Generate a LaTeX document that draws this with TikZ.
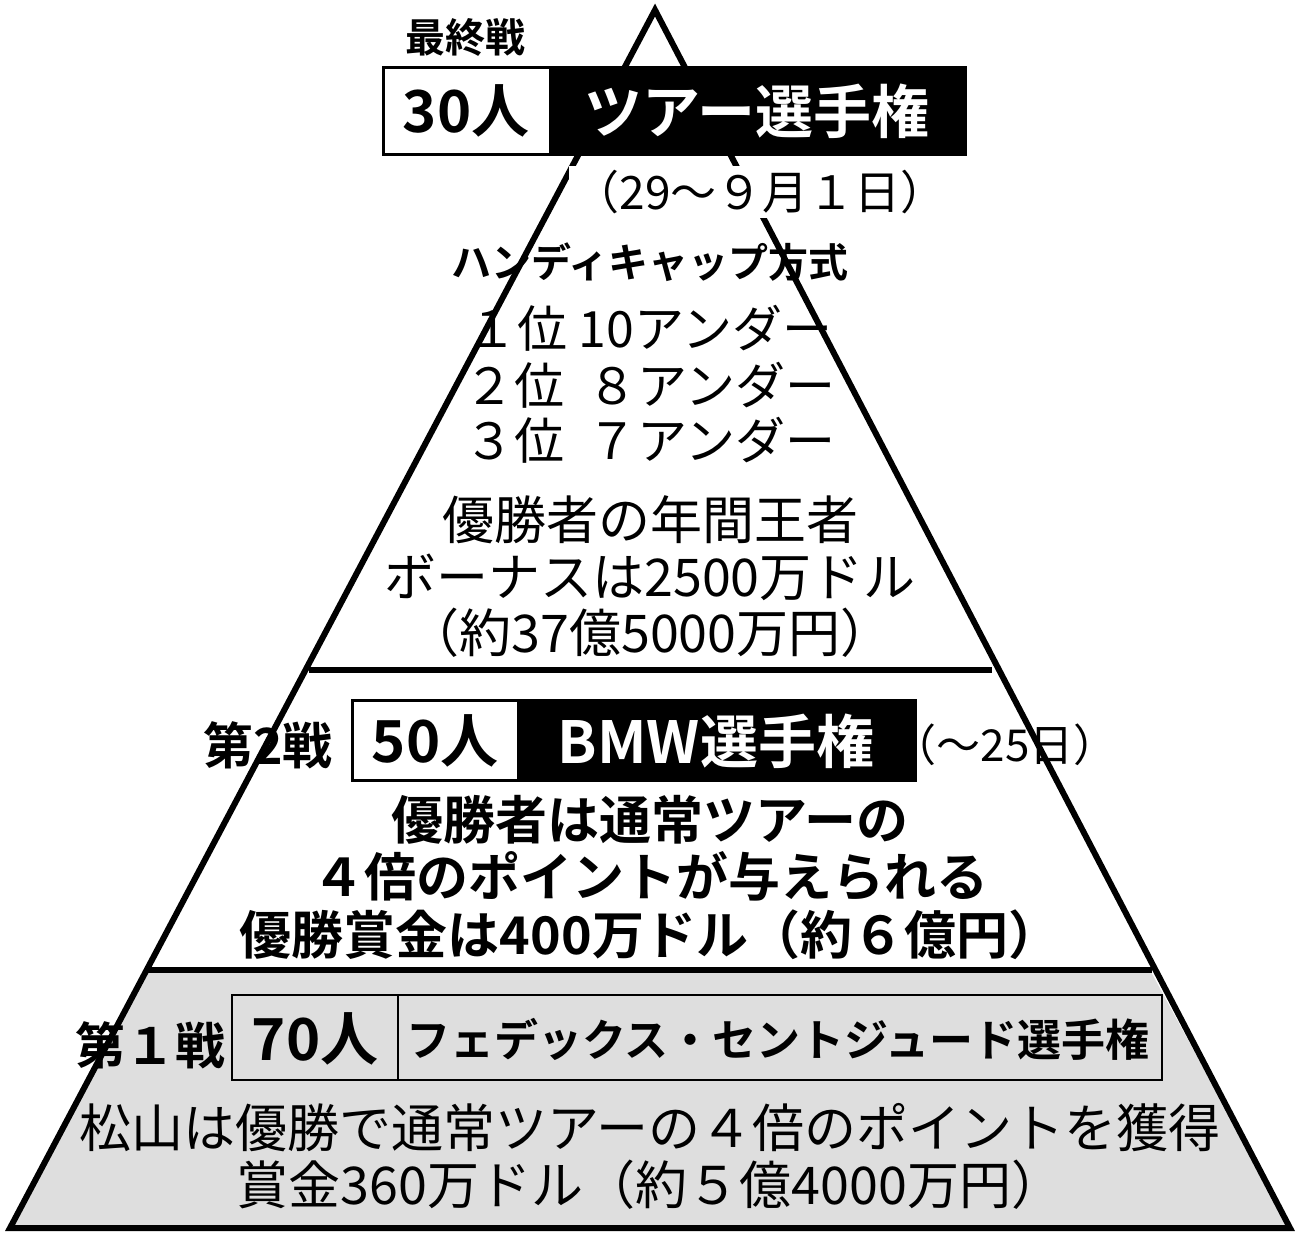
\documentclass[tikz,border=0pt]{standalone}
\usepackage{fontspec}
\setmainfont{Noto Sans CJK JP}
\newfontfamily\jpbold{Noto Sans CJK JP Bold}
\definecolor{tier_gray}{RGB}{222,222,222}
\tikzset{
  txt/.style={inner sep=0pt,font=\fontsize{26pt}{26pt}\selectfont},
  bold/.style={inner sep=0pt,font=\jpbold\fontsize{26pt}{26pt}\selectfont},
  label/.style={inner sep=0pt,font=\jpbold\fontsize{25pt}{25pt}\selectfont},
  big/.style={inner sep=0pt,font=\jpbold\fontsize{29pt}{29pt}\selectfont},
  whitebox/.style={draw=black,line width=1.5pt,fill=white,big},
  blackbox/.style={draw=black,line width=1.5pt,fill=black,text=white,big},
  graybox/.style={draw=black,line width=1pt,fill=tier_gray,big},
}
\begin{document}
\begin{tikzpicture}[x=0.5pt,y=-0.5pt]
\useasboundingbox (0,0) rectangle (1300,1237);
% pyramid
\coordinate (apex) at (655,10);
\coordinate (bl) at (10,1228);
\coordinate (br) at (1290,1228);
\fill[tier_gray] (150,970) -- (1150,970) -- (br) -- (bl) -- cycle;
\draw[line width=3pt,line join=miter] (apex) -- (br) -- (bl) -- cycle;
\draw[line width=3pt] (309,670) -- (992,670);
\draw[line width=3pt] (148,970) -- (1152,970);
% final
\node[label,font=\jpbold\fontsize{20pt}{20pt}\selectfont] (fin) at (465,37) {最終戦};
\draw[whitebox] (383,67) rectangle (550,154);
\node[big] (n30) at (466,111) {30人};
\draw[blackbox] (550,67) rectangle (965,154);
\node[big,text=white] (tour) at (757,111) {ツアー選手権};
\node[txt,fill=white,inner sep=2pt,font=\fontsize{23pt}{23pt}\selectfont] (date1) at (760,192) {（29～９月１日）};
\node[bold,font=\jpbold\fontsize{20pt}{20pt}\selectfont] (hcap) at (650,262) {ハンディキャップ方式};
\node[txt,font=\fontsize{25pt}{25pt}\selectfont] (r1) at (650,328) {１位 10アンダー};
\node[txt,font=\fontsize{25pt}{25pt}\selectfont] (r2) at (650,385) {２位\ \ ８アンダー};
\node[txt,font=\fontsize{25pt}{25pt}\selectfont] (r3) at (650,440) {３位\ \ ７アンダー};
\node[txt] (b1) at (650,520) {優勝者の年間王者};
\node[txt] (b2) at (650,577) {ボーナスは2500万ドル};
\node[txt] (b3) at (650,633) {（約37億5000万円）};
% second
\node[label] (sec) at (268,745) {第2戦};
\draw[whitebox] (352,700) rectangle (518,780);
\node[big] (n50) at (435,741) {50人};
\draw[blackbox] (518,700) rectangle (915,780);
\node[big,text=white] (bmw) at (716,741) {BMW選手権};
\node[txt,font=\fontsize{22pt}{22pt}\selectfont] (date2) at (1005,745) {（～25日）};
\node[bold] (s1) at (650,820) {優勝者は通常ツアーの};
\node[bold] (s2) at (650,876) {４倍のポイントが与えられる};
\node[bold] (s3) at (650,935) {優勝賞金は400万ドル（約６億円）};
% first
\node[label] (fst) at (150,1045) {第１戦};
\draw[graybox] (232,995) rectangle (398,1080);
\node[big] (n70) at (315,1039) {70人};
\draw[graybox] (398,995) rectangle (1162,1080);
\node[big,font=\jpbold\fontsize{22pt}{22pt}\selectfont] (fedex) at (778,1039) {フェデックス・セントジュード選手権};
\node[txt] (f1) at (650,1128) {松山は優勝で通常ツアーの４倍のポイントを獲得};
\node[txt] (f2) at (650,1185) {賞金360万ドル（約５億4000万円）};
\end{tikzpicture}
\end{document}
